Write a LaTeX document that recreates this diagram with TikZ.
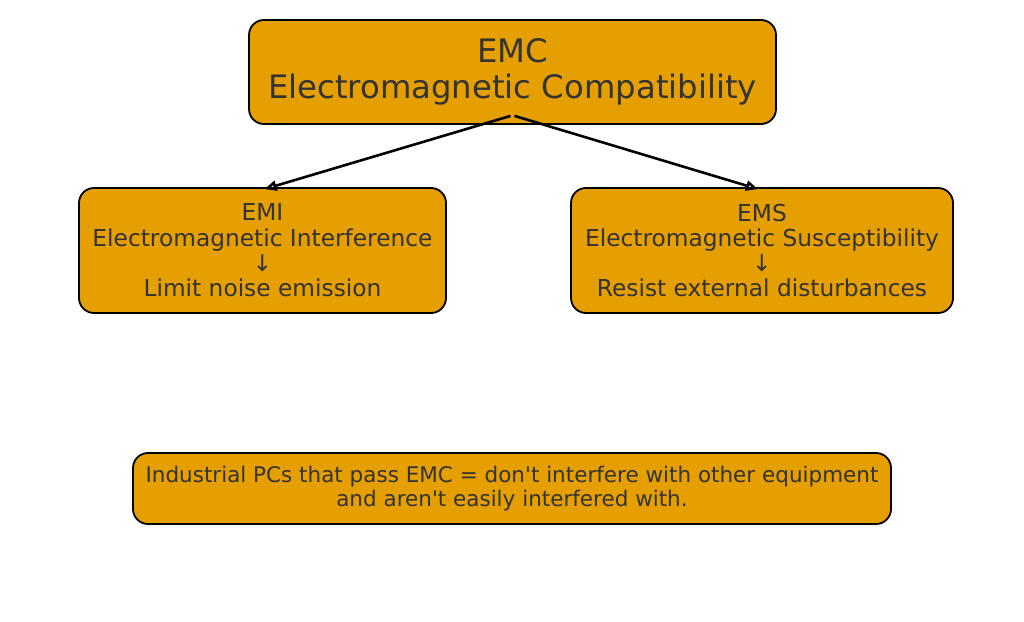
\documentclass[tikz,border=0pt]{standalone}
\usepackage{fontspec}
\setmainfont{DejaVu Sans}[Ligatures=TeXOff]
\usetikzlibrary{arrows.meta}
\definecolor{boxfill}{HTML}{E69F00}
\definecolor{boxtext}{HTML}{333333}
\begin{document}
\begin{tikzpicture}[x=1pt,y=-1pt,
	box/.style={draw=black, line width=1.8pt, fill=boxfill, rounded corners=15pt, text=boxtext, align=center, inner sep=0pt},
	link/.style={draw=black, line width=2.6pt, -{Triangle[open,length=12pt,width=10pt]}}]
	\useasboundingbox (0,0) rectangle (1024,621);
	\node[box, minimum width=527pt, minimum height=104pt, font=\fontsize{32.3}{36}\selectfont] (emc) at (512.5,72) {EMC\\Electromagnetic Compatibility};
	\node[box, minimum width=367pt, minimum height=125pt, font=\fontsize{23.3}{25.3}\selectfont] (emi) at (262.5,250.5) {EMI\\Electromagnetic Interference\\↓\\Limit noise emission};
	\node[box, minimum width=382pt, minimum height=125pt, font=\fontsize{23.3}{25.3}\selectfont] (ems) at (762,250.5) {EMS\\Electromagnetic Susceptibility\\↓\\Resist external disturbances};
	\node[box, minimum width=758pt, minimum height=71pt, font=\fontsize{21.5}{24}\selectfont] (note) at (512,488.5) {Industrial PCs that pass EMC = don't interfere with other equipment\\and aren't easily interfered with.};
	\draw[link] ([xshift=-2pt,yshift=9pt]emc.south) -- ([xshift=2pt,yshift=-2pt]emi.north);
	\draw[link] ([xshift=2pt,yshift=9pt]emc.south) -- ([xshift=-4pt,yshift=-2pt]ems.north);
\end{tikzpicture}
\end{document}
